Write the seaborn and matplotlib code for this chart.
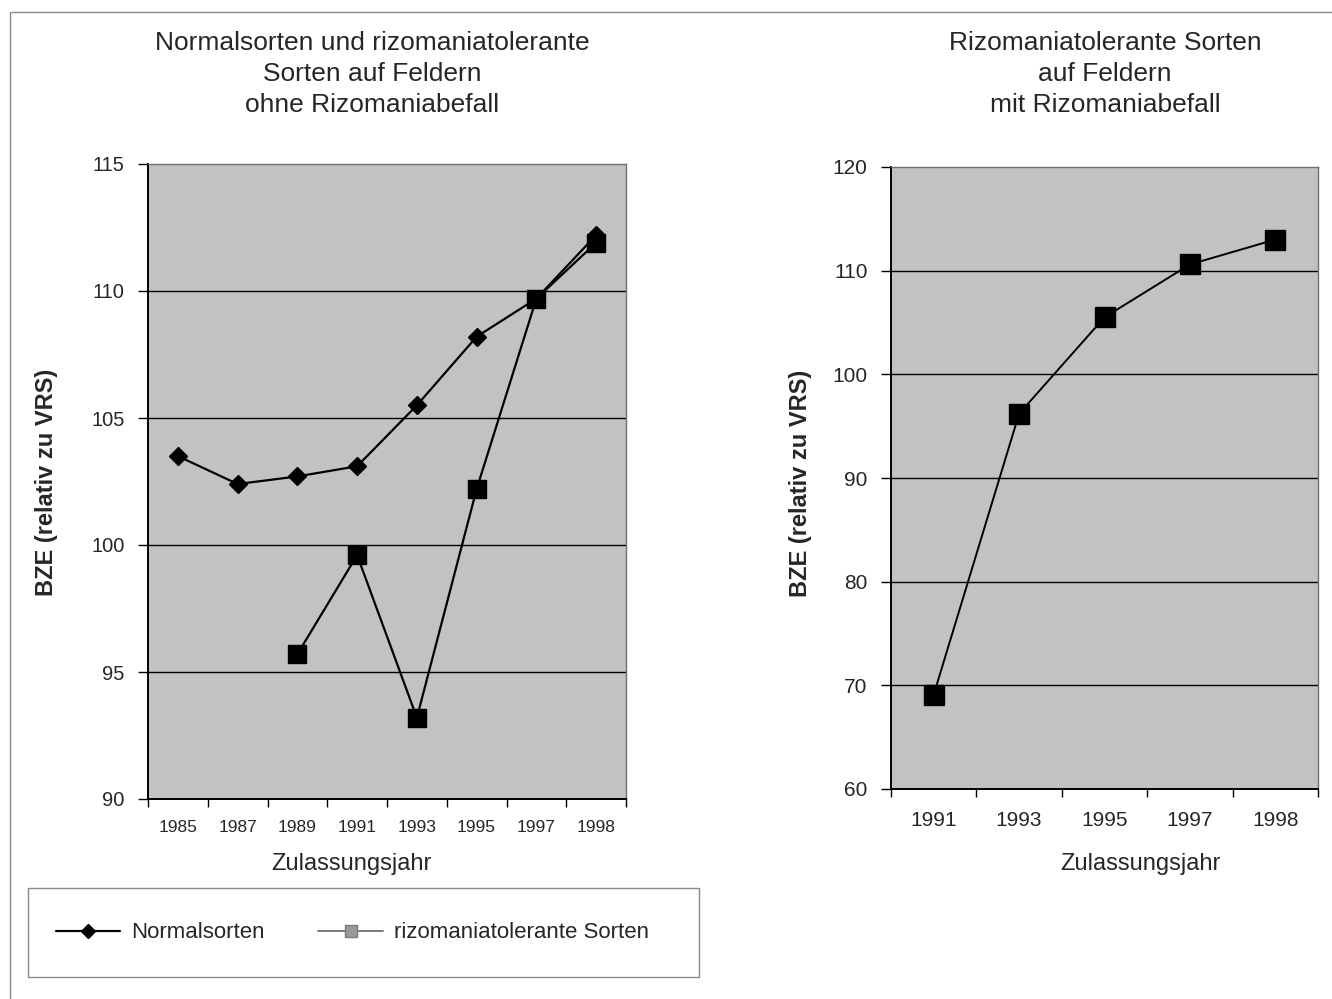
import numpy as np
import pandas as pd
import matplotlib
matplotlib.use("Agg")
import matplotlib.pyplot as plt
from matplotlib.lines import Line2D
from matplotlib.patches import Rectangle
import seaborn as sns

sns.set_style("white")
plt.rcParams["font.family"] = ["Liberation Sans", "DejaVu Sans"]

# left chart data
years_left = ["1985", "1987", "1989", "1991", "1993", "1995", "1997", "1998"]
normal = [103.5, 102.4, 102.7, 103.1, 105.5, 108.2, 109.7, 112.2]
rizo_left = [np.nan, np.nan, 95.7, 99.6, 93.2, 102.2, 109.7, 111.9]

# right chart data
years_right = ["1991", "1993", "1995", "1997", "1998"]
rizo_right = [69.1, 96.2, 105.5, 110.6, 113.0]

bg = "#c2c2c2"

fig = plt.figure(figsize=(13.32, 9.99), dpi=100)
ax1 = fig.add_axes([148/1332, 1-799/999, 478/1332, 635/999])
ax2 = fig.add_axes([891/1332, 1-789/999, 427/1332, 622/999])

df_norm = pd.DataFrame({"jahr": years_left, "bze": normal})
df_rizo = pd.DataFrame({"jahr": years_left, "bze": rizo_left})
sns.pointplot(data=df_norm, x="jahr", y="bze", order=years_left, color="black",
              markers="D", markersize=9, linewidth=1.6, markeredgewidth=1,
              errorbar=None, ax=ax1)
sns.pointplot(data=df_rizo.dropna(), x="jahr", y="bze", order=years_left, color="black",
              markers="s", markersize=13, linewidth=1.6, markeredgewidth=1,
              errorbar=None, ax=ax1)

df_right = pd.DataFrame({"jahr": years_right, "bze": rizo_right})
sns.pointplot(data=df_right, x="jahr", y="bze", order=years_right, color="black",
              markers="s", markersize=14, linewidth=1.4, markeredgewidth=1,
              errorbar=None, ax=ax2)


def style_axis(ax, n, ylim, yticks, xfs, yfs, xpad):
    ax.set_facecolor(bg)
    ax.set_xlim(-0.5, n - 0.5)
    ax.set_ylim(*ylim)
    ax.set_yticks(yticks)
    ax.set_xlabel("")
    ax.set_ylabel("")
    ax.grid(False)
    for y in yticks[1:-1]:
        ax.axhline(y, color="black", lw=1, zorder=0.5)
    ax.set_xticks(np.arange(-0.5, n), minor=True)
    ax.tick_params(axis="x", which="major", length=0, pad=xpad, labelsize=xfs)
    ax.tick_params(axis="x", which="minor", length=6, width=1, color="black",
                   direction="out", bottom=True)
    ax.tick_params(axis="y", length=7, width=1, color="black", direction="out",
                   left=True, pad=10, labelsize=yfs)
    for side in ["left", "bottom"]:
        ax.spines[side].set_color("black")
        ax.spines[side].set_linewidth(1.4)
    for side in ["top", "right"]:
        ax.spines[side].set_color("#707070")
        ax.spines[side].set_linewidth(1)


style_axis(ax1, len(years_left), (90, 115), [90, 95, 100, 105, 110, 115], 12.5, 14.5, 15)
style_axis(ax2, len(years_right), (60, 120), [60, 70, 80, 90, 100, 110, 120], 15, 15, 16)

# titles
fig.text(372/1332, 1-31/999, "Normalsorten und rizomaniatolerante\nSorten auf Feldern\nohne Rizomaniabefall",
         ha="center", va="top", fontsize=19, linespacing=1.38)
fig.text(1105/1332, 1-31/999, "Rizomaniatolerante Sorten\nauf Feldern\nmit Rizomaniabefall",
         ha="center", va="top", fontsize=19, linespacing=1.38)

# axis labels
fig.text(351/1332, 1-864/999, "Zulassungsjahr", ha="center", va="center", fontsize=17)
fig.text(1140/1332, 1-864/999, "Zulassungsjahr", ha="center", va="center", fontsize=17)
fig.text(47/1332, 1-482/999, "BZE (relativ zu VRS)", rotation=90, ha="center", va="center",
         fontsize=17, fontweight="bold")
fig.text(800/1332, 1-483/999, "BZE (relativ zu VRS)", rotation=90, ha="center", va="center",
         fontsize=17, fontweight="bold")

# legend box
fig.patches.append(Rectangle((28/1332, 1-977/999), 671/1332, 89/999, transform=fig.transFigure,
                             facecolor="white", edgecolor="#8a8a8a", lw=1))
handles = [
    Line2D([], [], color="black", marker="D", markersize=7, lw=1.6),
    Line2D([], [], color="#7a7a7a", marker="s", markersize=8, lw=1.4,
           markerfacecolor="#9a9a9a", markeredgecolor="#7a7a7a"),
]
fig.legend(handles, ["Normalsorten", "rizomaniatolerante Sorten"], loc="center left",
           bbox_to_anchor=(36/1332, 1-933/999), ncol=2, frameon=False, fontsize=16,
           handlelength=2.9, handletextpad=0.5, columnspacing=2.4)

# outer border
fig.patches.append(Rectangle((10/1332, -0.01), 1.02, 1-12/999 + 0.01, transform=fig.transFigure,
                             facecolor="none", edgecolor="#8a8a8a", lw=1))

fig.savefig("out.png", dpi=100)
